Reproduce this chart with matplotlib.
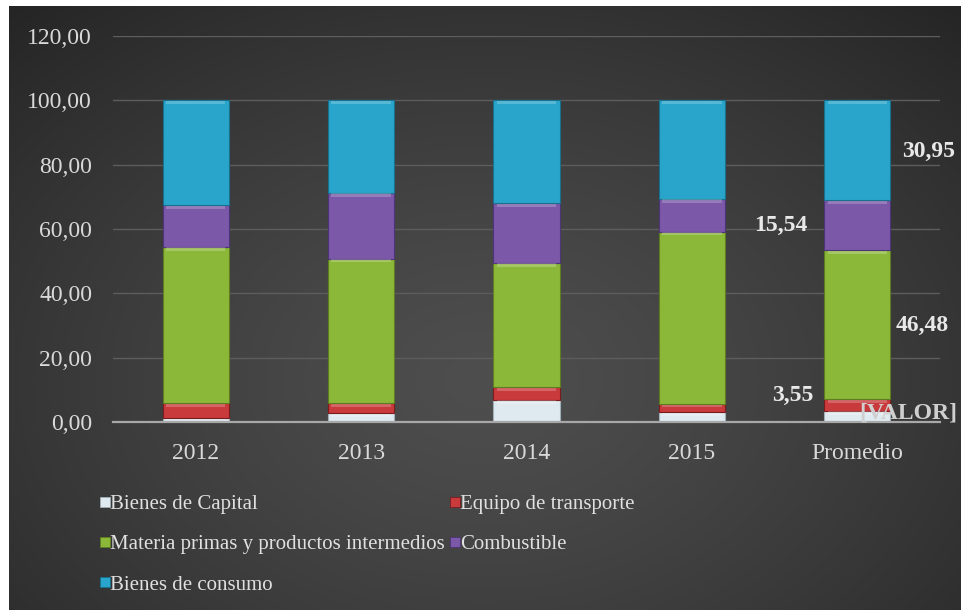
import numpy as np
import matplotlib
matplotlib.use("Agg")
import matplotlib.pyplot as plt
from matplotlib.lines import Line2D
import matplotlib.colors as mcolors

# ---- data ----
categories = ["2012", "2013", "2014", "2015", "Promedio"]
series_names = ["Bienes de Capital", "Equipo de transporte",
                "Materia primas y productos intermedios", "Combustible",
                "Bienes de consumo"]
capital = [1.2, 2.7, 6.9, 3.1, 3.48]
transporte = [4.6, 3.2, 4.0, 2.4, 3.55]
materia = [48.7, 44.9, 38.6, 53.7, 46.48]
combustible = [13.0, 20.5, 18.5, 10.2, 15.54]
consumo = [32.5, 28.7, 32.0, 30.6, 30.95]
yticks = [0, 20, 40, 60, 80, 100, 120]
ytick_labels = ["0,00", "20,00", "40,00", "60,00", "80,00", "100,00", "120,00"]
promedio_labels = ["[VALOR]", "3,55", "46,48", "15,54", "30,95"]

colors = ["#dfeaf0", "#c93a3c", "#8cb83a", "#7b58a8", "#29a5cb"]
edges = ["#9fb0b8", "#7a1c1e", "#5d7d20", "#4e3478", "#17708e"]

W, H = 961, 615
fig = plt.figure(figsize=(W / 100, H / 100), dpi=100, facecolor="white")

# background gradient
bg = fig.add_axes([9 / W, 5 / H, 1 - 9 / W, 1 - 11 / H], zorder=-10)
ny, nx = 300, 480
yy, xx = np.mgrid[0:1:ny * 1j, 0:1:nx * 1j]
d = np.sqrt(((xx - 0.5) / 0.75) ** 2 + ((yy - 0.62) / 0.85) ** 2)
d = np.clip(d / d.max(), 0, 1)
c0 = np.array(mcolors.to_rgb("#4e4e4e"))
c1 = np.array(mcolors.to_rgb("#252525"))
img = c0[None, None, :] * (1 - d[..., None] ** 1.3) + c1[None, None, :] * (d[..., None] ** 1.3)
bg.imshow(img, aspect="auto", extent=[0, 1, 0, 1], origin="upper")
bg.axis("off")

left, right = 113 / W, 940 / W
bottom = 1 - 422 / H
top = 1 - 36 / H
ax = fig.add_axes([left, bottom, right - left, top - bottom])
ax.set_facecolor("none")

x = np.arange(len(categories))
data = [capital, transporte, materia, combustible, consumo]
bottoms = np.zeros(len(categories))
for vals, col, ec, name in zip(data, colors, edges, series_names):
    v = np.array(vals)
    ax.bar(x, v, width=0.4, bottom=bottoms, color=col,
           edgecolor=ec, linewidth=0.8, label=name, zorder=3)
    hl = np.minimum(1.0, v * 0.3)
    ax.bar(x, hl, width=0.36, bottom=bottoms + v - hl - 0.2,
           color="white", alpha=0.22, linewidth=0, zorder=4)
    bottoms = bottoms + v

ax.set_xlim(-0.5, len(categories) - 0.5)
ax.set_ylim(0, 120)
ax.set_yticks(yticks)
ax.set_yticklabels(ytick_labels)
ax.set_xticks(x)
ax.set_xticklabels(categories)

font = "Liberation Serif"
for lab in ax.get_yticklabels() + ax.get_xticklabels():
    lab.set_fontfamily(font)
    lab.set_fontsize(17)
    lab.set_color("#d9d9d9")
ax.tick_params(axis="y", length=0, pad=15)
ax.tick_params(axis="x", length=0, pad=15)

ax.grid(axis="y", color="#5d5d5d", linewidth=1.0, zorder=0)
for s in ["top", "right", "left"]:
    ax.spines[s].set_visible(False)
ax.spines["bottom"].set_color("#a8a8a8")
ax.spines["bottom"].set_linewidth(1.6)
ax.spines["bottom"].set_zorder(5)

# data labels on Promedio
pi = len(categories) - 1
pv = np.array([d_[pi] for d_ in data])
centers = np.cumsum(pv) - pv / 2
offsets = [(0.31, 1.1), (-0.39, 3.1), (0.39, -0.1), (-0.46, -0.1), (0.43, -0.3)]
label_colors = ["#cfcfcf", "#e8e8e8", "#e8e8e8", "#e8e8e8", "#e8e8e8"]
for txt, c, (dx, dy), lc in zip(promedio_labels, centers, offsets, label_colors):
    ax.text(pi + dx, c + dy, txt, ha="center", va="center", fontsize=17,
            fontweight="bold", fontfamily=font, color=lc, clip_on=False, zorder=6)

# legend (row-major order like reference)
handles = [Line2D([], [], marker="s", linestyle="", markersize=7,
                  markerfacecolor=c, markeredgecolor=e, markeredgewidth=0.6)
           for c, e in zip(colors, edges)]
order = [0, 2, 4, 1, 3]
leg = fig.legend([handles[i] for i in order], [series_names[i] for i in order],
                 ncol=2, loc="upper left", bbox_to_anchor=(92 / W, 1 - 486 / H),
                 frameon=False, handlelength=0.4, handletextpad=0.05,
                 columnspacing=0.3, labelspacing=1.0, borderaxespad=0,
                 prop={"family": font, "size": 15})
for t in leg.get_texts():
    t.set_color("#e0e0e0")

fig.savefig("out.png", dpi=100, facecolor="white")
